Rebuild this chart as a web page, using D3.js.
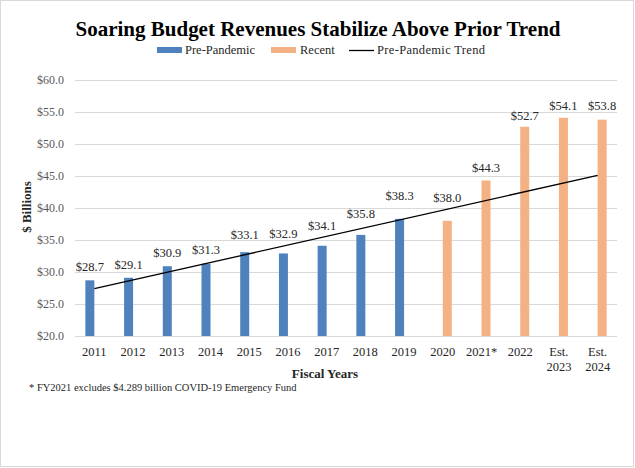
<!DOCTYPE html>
<html>
<head>
<meta charset="utf-8">
<script src="https://cdn.jsdelivr.net/npm/d3@7"></script>
<style>
  html, body { margin: 0; padding: 0; background: #fff; }
  svg { display: block; }
  svg text { font-family: "Liberation Serif", "Times New Roman", "DejaVu Serif", serif; }
</style>
</head>
<body>
<svg id="chart" width="635" height="468"></svg>
<script>
// ---- data ----
const categories = ["2011","2012","2013","2014","2015","2016","2017","2018","2019","2020","2021*","2022","Est. 2023","Est. 2024"];
const prePandemic = [28.7, 29.1, 30.9, 31.3, 33.1, 32.9, 34.1, 35.8, 38.3, null, null, null, null, null];
const recent      = [null, null, null, null, null, null, null, null, null, 38.0, 44.3, 52.7, 54.1, 53.8];
const trendCategories = ["2011", "Est. 2024"];
const trendValues = [27.4, 45.1];
const yTicks = [20, 25, 30, 35, 40, 45, 50, 55, 60];
const seriesNames = ["Pre-Pandemic", "Recent", "Pre-Pandemic Trend"];

// ---- layout (label placement, px above bar top) ----
const labelLift = [13.6, 13.4, 13.7, 13.6, 17.6, 19.8, 20.5, 21.2, 23.1, 23, 12.5, 10.7, 11.8, 13.7];

const FONT = "'Liberation Serif', 'Times New Roman', serif";
const colors = { pre: "#4F81BD", recent: "#F4B183", trend: "#000000", grid: "#D9D9D9" };

const svg = d3.select("#chart").attr("font-family", FONT);
const W = 635, H = 468;
const plot = { left: 75, right: 617, top: 80, bottom: 336 };

// chart border
svg.append("rect").attr("x", 0.5).attr("y", 0.5).attr("width", W - 2).attr("height", H - 2)
  .attr("fill", "#fff").attr("stroke", "#D9D9D9").attr("stroke-width", 1);

const x = d3.scaleBand().domain(categories).range([plot.left, plot.right]).paddingInner(0).paddingOuter(0);
const y = d3.scaleLinear().domain([20, 60]).range([plot.bottom, plot.top]);
const barW = 9;

// gridlines
svg.append("g").selectAll("line").data(yTicks.filter(t => t !== 20)).join("line")
  .attr("x1", plot.left).attr("x2", plot.right)
  .attr("y1", d => Math.round(y(d)) + 0.5).attr("y2", d => Math.round(y(d)) + 0.5)
  .attr("stroke", colors.grid).attr("stroke-width", 1);

// y axis labels
const yAxis = d3.axisLeft(y).tickValues(yTicks).tickSize(0).tickPadding(0)
  .tickFormat(d => "$" + d3.format(".1f")(d));
const yg = svg.append("g").attr("transform", `translate(${plot.left - 11},0)`).call(yAxis)
  .attr("font-family", FONT);
yg.select(".domain").remove();
yg.selectAll("text").attr("font-family", FONT).attr("font-size", 12).attr("fill", "#595959");

// bars
const cx = c => x(c) + x.bandwidth() / 2;
const preData = categories.map((c, i) => ({ c, v: prePandemic[i], i })).filter(d => d.v != null);
const recData = categories.map((c, i) => ({ c, v: recent[i], i })).filter(d => d.v != null);

svg.append("g").selectAll("rect").data(preData).join("rect")
  .attr("x", d => cx(d.c) - barW).attr("width", barW)
  .attr("y", d => y(d.v)).attr("height", d => y(20) - y(d.v))
  .attr("fill", colors.pre);
svg.append("g").selectAll("rect").data(recData).join("rect")
  .attr("x", d => cx(d.c)).attr("width", barW)
  .attr("y", d => y(d.v)).attr("height", d => y(20) - y(d.v))
  .attr("fill", colors.recent);

// x axis line
svg.append("line").attr("x1", plot.left).attr("x2", plot.right)
  .attr("y1", plot.bottom + 0.5).attr("y2", plot.bottom + 0.5)
  .attr("stroke", "#D9D9D9").attr("stroke-width", 1);

// trend line
const line = d3.line().x(d => cx(d.c)).y(d => y(d.v));
svg.append("path")
  .datum(trendCategories.map((c, i) => ({ c, v: trendValues[i] })))
  .attr("d", line).attr("fill", "none").attr("stroke", colors.trend).attr("stroke-width", 1.3);

// data labels
const allBars = preData.map(d => ({ ...d, off: -barW / 2 })).concat(recData.map(d => ({ ...d, off: barW / 2 })));
svg.append("g").attr("font-family", FONT).selectAll("text").data(allBars).join("text")
  .attr("x", d => cx(d.c) + d.off)
  .attr("y", d => y(d.v) - labelLift[d.i])
  .attr("dy", "0.35em")
  .attr("text-anchor", "middle").attr("font-size", 12.5).attr("fill", "#262626")
  .text(d => "$" + d3.format(".1f")(d.v));

// x tick labels
const xg = svg.append("g").attr("font-family", FONT);
categories.forEach(c => {
  const parts = c.startsWith("Est. ") ? ["Est.", c.slice(5)] : [c];
  const t = xg.append("text").attr("x", cx(c)).attr("y", 356).attr("text-anchor", "middle")
    .attr("font-size", 12.5).attr("fill", "#262626");
  parts.forEach((p, k) => t.append("tspan").attr("x", cx(c)).attr("dy", k === 0 ? 0 : 15).text(p));
});

// axis titles
svg.append("text").attr("x", 325).attr("y", 378).attr("text-anchor", "middle")
  .attr("font-size", 13).attr("font-weight", "bold").attr("fill", "#262626").text("Fiscal Years");
svg.append("text").attr("transform", "translate(31,207) rotate(-90)").attr("text-anchor", "middle")
  .attr("font-size", 13).attr("font-weight", "bold").attr("fill", "#262626").text("$ Billions");

// title
svg.append("text").attr("x", 318).attr("y", 36).attr("text-anchor", "middle")
  .attr("font-size", 21).attr("font-weight", "bold").attr("fill", "#000")
  .attr("textLength", 485).attr("lengthAdjust", "spacing")
  .text("Soaring Budget Revenues Stabilize Above Prior Trend");

// legend
const lg = svg.append("g").attr("font-family", FONT).attr("font-size", 12.5).attr("fill", "#262626");
lg.append("rect").attr("x", 157).attr("y", 47).attr("width", 25).attr("height", 6).attr("fill", colors.pre);
lg.append("text").attr("x", 185).attr("y", 54).text(seriesNames[0]);
lg.append("rect").attr("x", 271).attr("y", 47).attr("width", 25).attr("height", 6).attr("fill", colors.recent);
lg.append("text").attr("x", 300).attr("y", 54).text(seriesNames[1]);
lg.append("line").attr("x1", 349).attr("x2", 374).attr("y1", 50.5).attr("y2", 50.5).attr("stroke", "#000").attr("stroke-width", 1.3);
lg.append("text").attr("x", 377).attr("y", 54).attr("textLength", 108).attr("lengthAdjust", "spacing").text(seriesNames[2]);

// footnote
svg.append("text").attr("x", 29).attr("y", 391).attr("font-size", 10.5).attr("fill", "#262626")
  .text("* FY2021 excludes $4.289 billion COVID-19 Emergency Fund");
</script>
</body>
</html>
